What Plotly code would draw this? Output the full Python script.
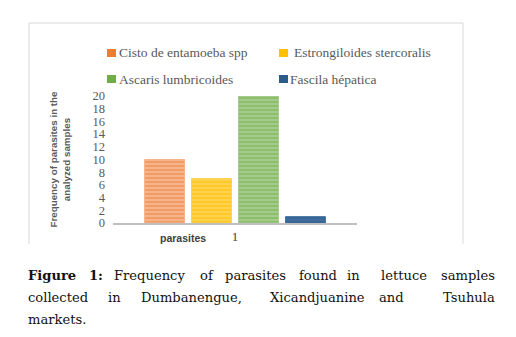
import plotly.graph_objects as go

categories = ["1"]
series_names = ["Cisto de entamoeba spp", "Estrongiloides stercoralis",
                "Ascaris lumbricoides", "Fascila hépatica"]
series_values = [[10], [7], [20], [1]]
y_ticks = list(range(0, 21, 2))

base_colors = ["#F6B48C", "#FFD24D", "#A3CC8A", "#3F6E9E"]
stripe_colors = ["#ED7D31", "#FFC000", "#70AD47", "#2E5C8A"]

fig = go.Figure()
for name, vals, bc, sc in zip(series_names, series_values, base_colors, stripe_colors):
    fig.add_trace(go.Bar(
        x=categories, y=vals, name=name, showlegend=False,
        marker=dict(color=bc, line=dict(color=bc, width=1),
                    pattern=dict(shape="-", fgcolor=sc, bgcolor=bc, size=4, solidity=0.45,
                                 fillmode="overlay")),
    ))

W, H = 516, 337
L, R, T, B = 113, 357, 96, 223

def px(x):
    return (x - L) / (R - L)

def py(y):
    return (B - y) / (B - T)

fig.update_layout(
    width=W, height=H,
    margin=dict(l=L, r=W - R, t=T, b=H - B),
    paper_bgcolor="white", plot_bgcolor="white",
    barmode="group", bargap=0.23, bargroupgap=0.15,
    showlegend=False,
    font=dict(family="Liberation Serif", color="#595959"),
)
fig.update_xaxes(showline=True, linecolor="#BFBFBF", linewidth=2, showgrid=False,
                 ticks="", tickfont=dict(family="Liberation Serif", size=13, color="#404040"),
                 zeroline=False)
fig.update_yaxes(range=[0, 20], tickvals=y_ticks, showgrid=False, zeroline=False,
                 showline=False, ticks="", ticklabelstandoff=7,
                 tickfont=dict(family="Liberation Serif", size=12.5, color="#595959"),
                 title=dict(text="<b>Frequency of parasites in the<br>analyzed samples</b>",
                            font=dict(family="Liberation Sans", size=9.8, color="#595959"),
                            standoff=20))

fig.add_annotation(text="<b>parasites</b>", x=px(183), y=py(238), xref="paper", yref="paper",
                   xanchor="center", yanchor="middle", showarrow=False,
                   font=dict(family="Liberation Sans", size=10.5, color="#404040"))

# legend drawn as a 2x2 grid (marker square + label)
leg_cols = [111.5, 283.5]
leg_text_x = [117, 292]
leg_rows = [53, 79]
for i, (name, sc) in enumerate(zip(series_names, stripe_colors)):
    cx, cy = leg_cols[i % 2], leg_rows[i // 2]
    fig.add_shape(type="rect", xref="paper", yref="paper",
                  x0=px(cx - 4.5), x1=px(cx + 4.5), y0=py(cy - 4), y1=py(cy + 4),
                  fillcolor=sc, line=dict(width=0))
    fig.add_annotation(text=name, x=px(leg_text_x[i % 2] + (i == 3) * -4), y=py(cy),
                       xref="paper", yref="paper", xanchor="left", yanchor="middle",
                       showarrow=False,
                       font=dict(family="Liberation Serif", size=13.5, color="#595959"))

# chart frame (open at bottom)
fig.add_shape(type="path", xref="paper", yref="paper",
              path=f"M {px(29)} {py(244)} L {px(29)} {py(23)} L {px(463)} {py(23)} L {px(463)} {py(244)}",
              line=dict(color="#D9D9D9", width=1))

# caption (justified: first words left-aligned, last word right-aligned)
cap_font = dict(family="DejaVu Serif", size=13.1, color="#111111")
line1 = [("<b>Figure</b>", 27), ("<b>1:</b>", 88), ("Frequency", 113), ("of", 199),
         ("parasites", 224), ("found", 298), ("in", 346), ("lettuce", 380), ("samples", 497)]
line2 = [("collected", 27), ("in", 107), ("Dumbanengue,", 140), ("Xicandjuanine", 269),
         ("and", 378), ("Tsuhula", 497)]
line3 = [("markets.", 27)]
for words, yy, justify in ((line1, 275, True), (line2, 297, True), (line3, 319, False)):
    for j, (w, xx) in enumerate(words):
        last = justify and j == len(words) - 1
        fig.add_annotation(text=w, x=px(xx if last else xx - 1), y=py(yy),
                           xref="paper", yref="paper",
                           xanchor="right" if last else "left", yanchor="middle",
                           showarrow=False, font=cap_font)

fig.write_html("out.html")
